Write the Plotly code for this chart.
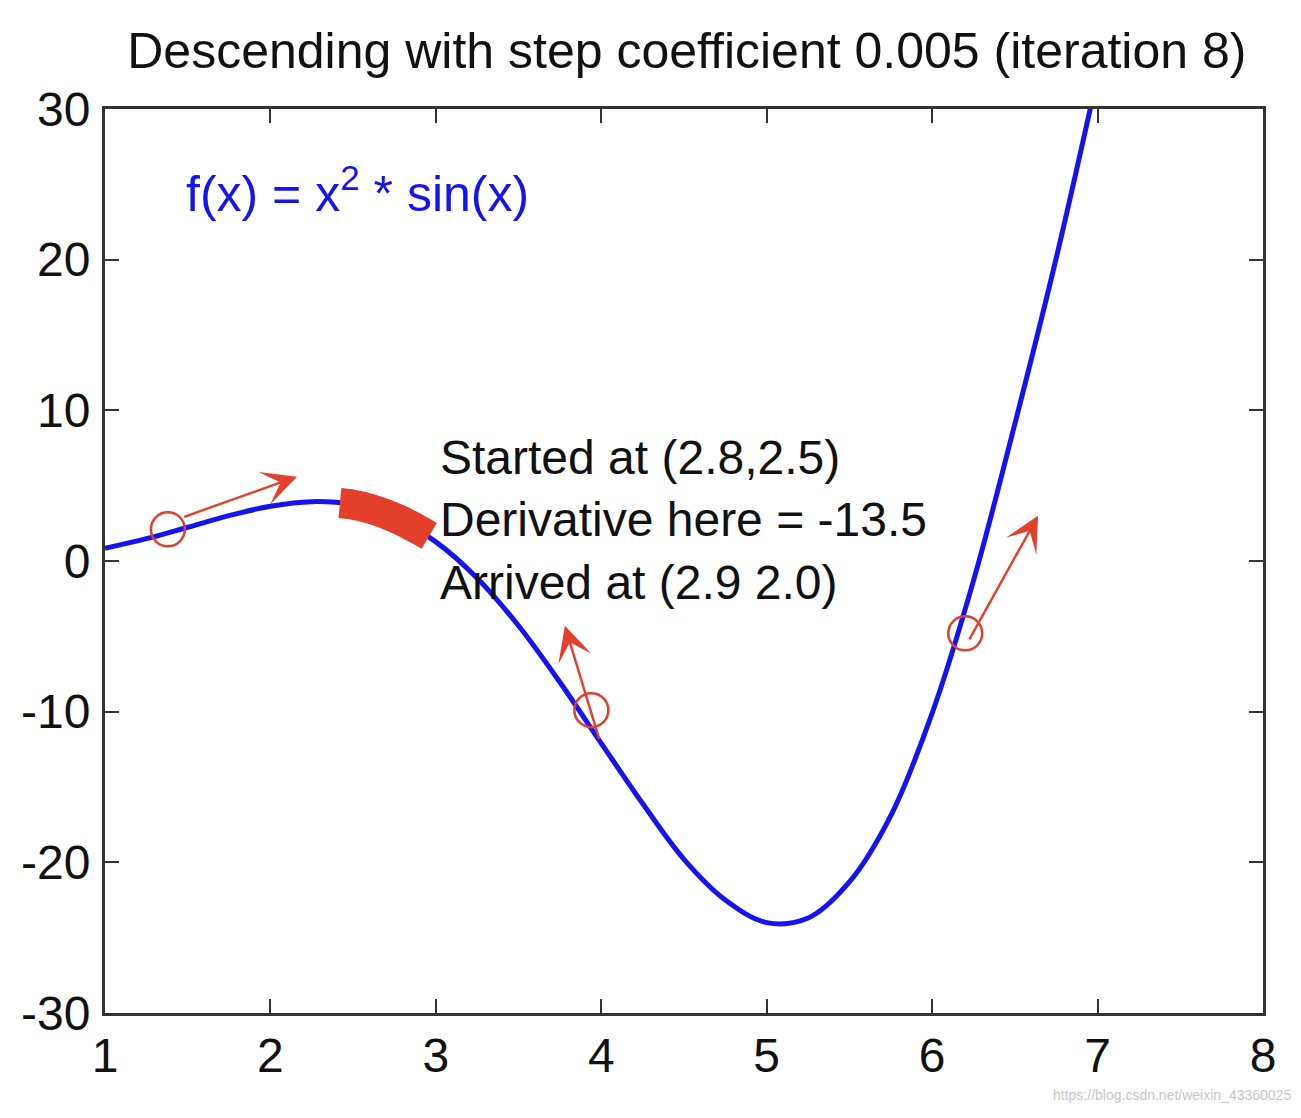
import plotly.graph_objects as go

# Curve values
curve_x = [1.0, 1.25, 1.5, 1.75, 2.0, 2.25, 2.5, 2.75, 3.0, 3.25, 3.5, 3.75, 4.0,
           4.25, 4.5, 4.75, 5.0, 5.25, 5.5, 5.75, 6.0, 6.25, 6.5, 6.75, 7.0]
curve_y = [0.84, 1.48, 2.24, 3.01, 3.64, 3.94, 3.74, 2.88, 1.27, -1.14, -4.30, -8.05,
           -12.1, -16.1, -19.8, -22.5, -24.0, -23.7, -21.3, -16.9, -10.1, -1.3, 9.1, 20.1, 32.2]

# Highlighted (red) segment
seg_x = [2.42, 2.5, 2.6, 2.7, 2.8, 2.9, 2.96]
seg_y = [3.85, 3.74, 3.48, 3.11, 2.63, 2.05, 1.67]

# Hand-drawn circles (centres) and arrows (start -> end)
circ_x = [1.38, 3.94, 6.2]
circ_y = [2.1, -9.9, -4.8]
arrow_from_x = [1.47, 3.99, 6.22]
arrow_from_y = [2.9, -11.9, -5.3]
arrow_to_x = [2.16, 3.78, 6.64]
arrow_to_y = [5.6, -4.3, 3.0]

x_ticks = [1, 2, 3, 4, 5, 6, 7, 8]
y_ticks = [-30, -20, -10, 0, 10, 20, 30]
y_tick_text = ["-30", "-20", "-10", "0", "10", "20", "30"]

title = "Descending with step coefficient 0.005 (iteration 8)"
info_lines = ["Started at (2.8,2.5)", "Derivative here = -13.5", "Arrived at (2.9 2.0)"]

FONT = "Liberation Sans, Arial, sans-serif"
RED = "#e43f2a"
BLUE = "#1414f0"

fig = go.Figure()
fig.add_trace(go.Scatter(x=curve_x, y=curve_y, mode="lines",
                         line=dict(color=BLUE, width=5, shape="spline"),
                         showlegend=False, hoverinfo="skip"))
fig.add_trace(go.Scatter(x=seg_x, y=seg_y, mode="lines",
                         line=dict(color=RED, width=30, shape="spline"),
                         showlegend=False, hoverinfo="skip"))
fig.add_trace(go.Scatter(x=circ_x, y=circ_y, mode="markers",
                         marker=dict(symbol="circle-open", size=34,
                                     color=RED, line=dict(width=2.5, color=RED)),
                         showlegend=False, hoverinfo="skip"))

annotations = []
for fx, fy, tx, ty in zip(arrow_from_x, arrow_from_y, arrow_to_x, arrow_to_y):
    annotations.append(dict(x=tx, y=ty, ax=fx, ay=fy, xref="x", yref="y",
                            axref="x", ayref="y", text="", showarrow=True,
                            arrowhead=3, arrowsize=2.4, arrowwidth=2.4,
                            arrowcolor=RED))

annotations.append(dict(x=3.01, y=2.7, xref="x", yref="y", xanchor="left",
                        yanchor="middle", align="left", showarrow=False,
                        text="<br>".join(info_lines),
                        font=dict(family=FONT, size=48, color="#111111")))
annotations.append(dict(x=1.48, y=24.6, xref="x", yref="y", xanchor="left",
                        yanchor="middle", showarrow=False,
                        text="f(x) = x<sup>2</sup> * sin(x)",
                        font=dict(family=FONT, size=50, color=BLUE)))
annotations.append(dict(x=1.0, y=0.0, xref="paper", yref="paper", yshift=-92,
                        xanchor="right", yanchor="bottom", xshift=30,
                        showarrow=False,
                        text="https://blog.csdn.net/weixin_43360025",
                        font=dict(family=FONT, size=14, color="#c8c8c8")))

axis_common = dict(showgrid=False, zeroline=False, showline=True, linecolor="#333333",
                   linewidth=3, mirror="ticks", ticks="inside", ticklen=14,
                   tickwidth=2, tickcolor="#333333", automargin=False,
                   tickfont=dict(family=FONT, size=48, color="#111111"))

fig.update_layout(
    width=1293, height=1110,
    paper_bgcolor="white", plot_bgcolor="white",
    margin=dict(l=97, r=38, t=101, b=105, autoexpand=False),
    title=dict(text=title, x=0.525, xanchor="center", y=0.962, yanchor="middle",
               automargin=False,
               font=dict(family=FONT, size=50, color="#111111")),
    xaxis=dict(range=[1, 8], tickvals=x_ticks, ticklabelstandoff=-2, **axis_common),
    yaxis=dict(range=[-30, 30], tickvals=y_ticks, ticktext=y_tick_text,
               ticklabelstandoff=2, **axis_common),
    annotations=annotations,
)

fig.write_html("out.html")
